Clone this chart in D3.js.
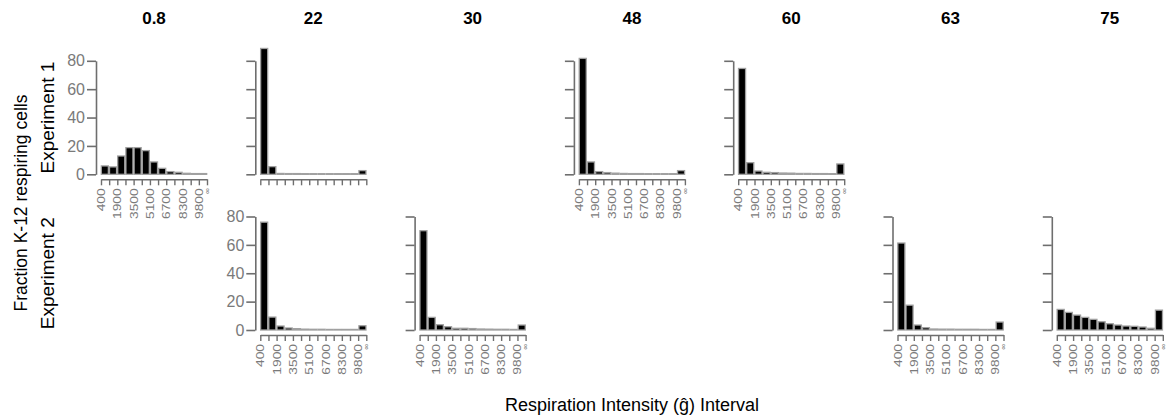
<!DOCTYPE html>
<html>
<head>
<meta charset="utf-8">
<script src="https://cdn.jsdelivr.net/npm/d3@7"></script>
<style>
  body { margin: 0; background: #fff; }
  svg { font-family: "Liberation Sans", Arial, sans-serif; }
</style>
</head>
<body>
<svg id="chart" width="1167" height="420"></svg>
<script>
// column headings and row names
const columns = ['0.8', '22', '30', '48', '60', '63', '75'];
const rows = ['Experiment 1', 'Experiment 2'];

// interval edges along x (blank = tick without label)
const tickLabels = ['400', '', '1900', '', '3500', '', '5100', '', '6700', '', '8300', '', '9800', '\u221e'];
const yTicks = [0, 20, 40, 60, 80];

// percentages per interval
const exp1_08 = [5.9, 5.2, 12.9, 18.8, 18.8, 16.7, 8.7, 4.2, 1.9, 1.4, 0.7, 0.5, 0.5];
const exp1_22 = [88.7, 5.4, 0.6, 0.5, 0.5, 0.4, 0.4, 0.4, 0.4, 0.4, 0.4, 0.4, 2.6];
const exp1_48 = [81.7, 8.7, 1.9, 1.2, 0.8, 0.6, 0.5, 0.5, 0.4, 0.4, 0.4, 0.4, 2.6];
const exp1_60 = [74.6, 8.2, 2.3, 1.4, 1.2, 0.9, 0.8, 0.6, 0.6, 0.5, 0.5, 0.4, 7.3];
const exp2_22 = [76, 9.1, 2.8, 1.4, 0.9, 0.6, 0.5, 0.5, 0.4, 0.4, 0.4, 0.4, 3.0];
const exp2_30 = [70, 8.9, 3.7, 2.3, 1.2, 1.2, 1.0, 0.7, 0.6, 0.5, 0.5, 0.4, 3.5];
const exp2_63 = [61.3, 17.5, 3.5, 1.6, 0.7, 0.6, 0.6, 0.5, 0.5, 0.5, 0.4, 0.4, 5.6];
const exp2_75 = [14.5, 12.4, 10.5, 8.9, 7.5, 5.8, 4.4, 3.5, 2.8, 2.6, 2.1, 1.2, 14];

// which panels exist: [row, column, values]
const panels = [
  [0, 0, exp1_08], [0, 1, exp1_22], [0, 3, exp1_48], [0, 4, exp1_60],
  [1, 1, exp2_22], [1, 2, exp2_30], [1, 5, exp2_63], [1, 6, exp2_75]
];

const svg = d3.select('#chart');
const colLeft = 101, colStep = 159.3, panelW = 106;
const rowBase = [174.3, 330], panelH = 113.5;
const axisGrey = '#6e6e6e', labelGrey = '#7a7a7a';

const bins = d3.range(tickLabels.length - 1);
const last = tickLabels.length - 1;

// column headings
svg.selectAll('.coltitle')
  .data(columns)
  .enter()
  .append('text')
  .attr('x', (d, i) => colLeft + colStep * i + panelW / 2)
  .attr('y', 24)
  .attr('text-anchor', 'middle')
  .style('font-size', '17px')
  .style('font-weight', 'bold')
  .text(d => d);

panels.forEach(([r, c, values]) => {
  const x0 = colLeft + colStep * c;
  const y0 = rowBase[r];
  const g = svg.append('g').attr('transform', 'translate(' + x0 + ',0)');

  const x = d3.scaleBand().domain(bins).range([0, panelW]).paddingInner(0.14).paddingOuter(0.04);
  const xe = d3.scaleLinear().domain([0, bins.length]).range([0, panelW]);
  const y = d3.scaleLinear().domain([0, 80]).range([y0, y0 - panelH]);

  // bars
  g.selectAll('rect')
    .data(values)
    .enter()
    .append('rect')
    .attr('x', (d, i) => x(i))
    .attr('y', d => y(d))
    .attr('width', x.bandwidth())
    .attr('height', d => y(0) - y(d))
    .attr('fill', '#000')
    .attr('stroke', '#a0a0a0')
    .attr('stroke-width', 1.3);

  // y axis: labels only on the first panel of each row
  const firstInRow = panels.find(p => p[0] === r)[1] === c;
  const ya = g.append('g')
    .attr('transform', 'translate(-5,0)')
    .call(d3.axisLeft(y).tickValues(yTicks).tickSize(9).tickSizeOuter(0)
      .tickFormat(firstInRow ? d3.format('d') : () => ''));
  ya.select('.domain').attr('stroke', axisGrey).attr('stroke-width', 1.6);
  ya.selectAll('.tick line').attr('stroke', axisGrey).attr('stroke-width', 1.6);
  ya.selectAll('.tick text')
    .attr('fill', labelGrey)
    .attr('x', -11)
    .style('font-size', '16px')
    .style('font-family', '"Liberation Sans", Arial, sans-serif');

  // x axis: labels only on the lowest panel of the column
  const lowest = d3.max(panels.filter(p => p[1] === c), p => p[0]) === r;
  const xa = g.append('g')
    .attr('transform', 'translate(0,' + (y0 + 5) + ')')
    .call(d3.axisBottom(xe).tickValues(d3.range(tickLabels.length)).tickSize(6).tickSizeOuter(0)
      .tickFormat(lowest ? (i => tickLabels[i]) : () => ''));
  xa.select('.domain').attr('stroke', axisGrey).attr('stroke-width', 1.6);
  xa.selectAll('.tick line').attr('stroke', axisGrey).attr('stroke-width', 1.4);
  xa.selectAll('.tick text')
    .attr('fill', labelGrey)
    .attr('y', 0)
    .attr('dy', '0.35em')
    .attr('text-anchor', 'end')
    .style('font-family', '"Liberation Sans", Arial, sans-serif')
    .style('font-size', (i) => i === last ? '8px' : '10px')
    .attr('transform', (i) => i === last
      ? 'translate(-0.5,9) rotate(-90)'
      : 'translate(0,9) rotate(-90) scale(1.38,1)');
});

// row names
rows.forEach((name, r) => {
  svg.append('text')
    .attr('transform', 'translate(54,' + (rowBase[r] - panelH / 2) + ') rotate(-90)')
    .attr('text-anchor', 'middle')
    .style('font-size', '19px')
    .text(name);
});

// axis titles
svg.append('text')
  .attr('transform', 'translate(27,203) rotate(-90)')
  .attr('text-anchor', 'middle')
  .style('font-size', '17.5px')
  .text('Fraction K-12 respiring cells');

svg.append('text')
  .attr('x', 632)
  .attr('y', 411)
  .attr('text-anchor', 'middle')
  .style('font-size', '18px')
  .text('Respiration Intensity (\u011d) Interval');
</script>
</body>
</html>
